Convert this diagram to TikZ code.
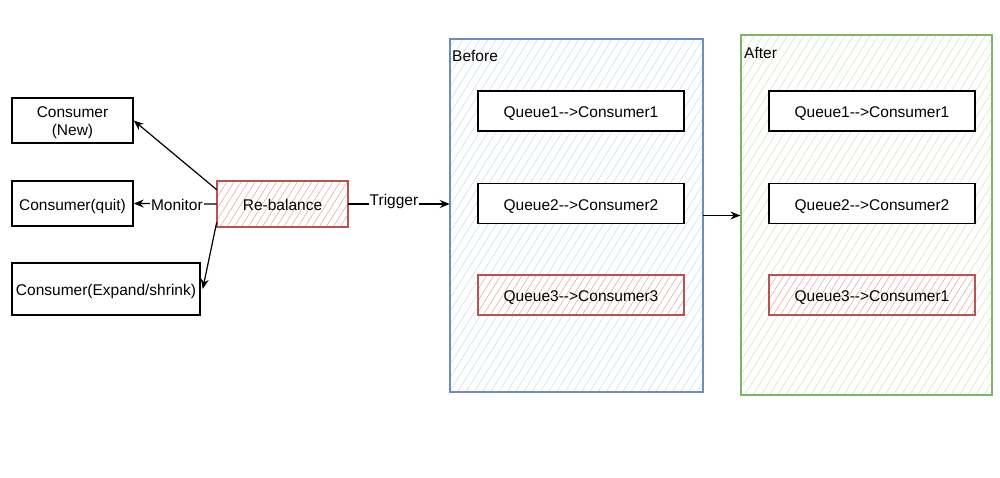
\documentclass[tikz,border=0pt]{standalone}
\usepackage{fontspec}
\setmainfont{Liberation Sans}
\usetikzlibrary{arrows.meta,patterns.meta}
\definecolor{bluebd}{HTML}{6C8EBF}
\definecolor{bluehat}{HTML}{C8D8F2}
\definecolor{greenbd}{HTML}{82B366}
\definecolor{greenhat}{HTML}{CDE2C5}
\definecolor{redbd}{HTML}{B85450}
\definecolor{redhat}{HTML}{E9ACA9}
\tikzset{
  txt/.style={font=\fontsize{15.5}{18}\selectfont},
  one/.style={text height=15pt, text depth=2pt},
  box/.style={txt, draw=black, line width=1.4pt, fill=white, inner sep=0pt, align=center},
  hot/.style={txt, draw=redbd, line width=1.2pt, inner sep=0pt, align=center,
    preaction={fill=white},
    pattern={Lines[angle=58,distance=6pt,line width=0.6pt]}, pattern color=redhat},
  cont/.style={line width=1.2pt, inner sep=0pt,
    pattern={Lines[angle=58,distance=7pt,line width=0.5pt]}},
  qbox/.style={one, minimum width=206pt, minimum height=40pt},
  arr/.style={line width=1.2pt, -{Stealth[length=10pt,width=8pt]}},
  lbl/.style={txt, one, fill=white, inner sep=1pt},
}
\begin{document}
\begin{tikzpicture}[x=1pt,y=-1pt]
\useasboundingbox (0,0) rectangle (1000,477);
% left consumers
\node[box, minimum width=121pt, minimum height=45pt] (cnew) at (72.5,120.5) {\rule{0pt}{15pt}Consumer\\(New)};
\node[box, one, minimum width=121pt, minimum height=45pt] (cquit) at (72.5,203.5) {Consumer(quit)};
\node[box, one, minimum width=188pt, minimum height=52pt] (cexp) at (106,289) {Consumer(Expand/shrink)};
% rebalance
\node[hot, one, minimum width=131pt, minimum height=46pt] (rb) at (282.5,204) {Re-balance};
% containers
\node[cont, draw=bluebd, pattern color=bluehat, minimum width=253pt, minimum height=353pt] (before) at (576.5,215.5) {};
\node[cont, draw=greenbd, pattern color=greenhat, minimum width=251pt, minimum height=360pt] (after) at (866.5,215) {};
\node[txt, anchor=north west, inner sep=0pt] (beforelbl) at (452,50) {Before};
\node[txt, anchor=north west, inner sep=0pt] (afterlbl) at (744,47) {After};
% queues before
\node[box, qbox] (bq1) at (581,111) {Queue1-{}->Consumer1};
\node[box, qbox] (bq2) at (581,203.5) {Queue2-{}->Consumer2};
\node[hot, qbox] (bq3) at (581,295) {Queue3-{}->Consumer3};
% queues after
\node[box, qbox] (aq1) at (872,111) {Queue1-{}->Consumer1};
\node[box, qbox] (aq2) at (872,203.5) {Queue2-{}->Consumer2};
\node[hot, qbox] (aq3) at (872,295) {Queue3-{}->Consumer1};
% connectors
\draw[arr] ([yshift=-9pt]rb.north west) -- (cnew.east);
\draw[arr] (rb.west) -- node[lbl, pos=0.48] {Monitor} (cquit.east);
\draw[arr] ([yshift=5pt]rb.south west) -- ([xshift=2pt]cexp.east);
\draw[arr] (rb.east) -- node[lbl, pos=0.45, yshift=5pt] {Trigger} (rb.east -| before.west);
\draw[arr] (before.east) -- (before.east -| after.west);
\end{tikzpicture}
\end{document}
